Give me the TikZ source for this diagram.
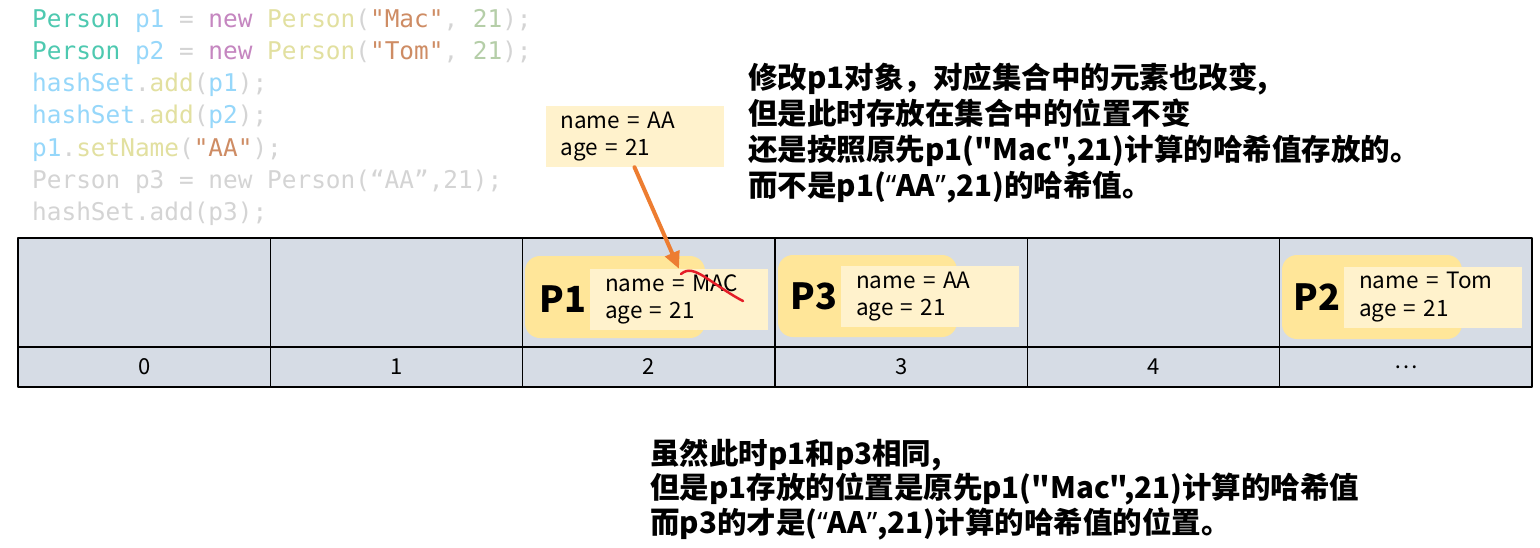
\documentclass[tikz,border=0pt]{standalone}
\usepackage{fontspec}
\newfontfamily\cjk{Noto Sans CJK SC}
\newfontfamily\latin{Noto Sans}
\setmonofont{DejaVu Sans Mono}
\usetikzlibrary{arrows.meta}
\usetikzlibrary{positioning}

\definecolor{cellbg}{RGB}{214,220,229}
\definecolor{objbg}{RGB}{255,230,153}
\definecolor{fieldbg}{RGB}{255,242,204}
\definecolor{arroworange}{RGB}{237,125,49}
\definecolor{strikered}{RGB}{228,30,40}
\definecolor{cdtypec}{RGB}{78,201,176}
\definecolor{cdvarc}{RGB}{150,215,250}
\definecolor{cdkwc}{RGB}{197,134,192}
\definecolor{cdfunc}{RGB}{226,224,160}
\definecolor{cdstrc}{RGB}{206,140,100}
\definecolor{cdnumc}{RGB}{181,206,168}
\definecolor{cdpunc}{RGB}{212,212,212}

\newcommand{\cdtype}[1]{\textcolor{cdtypec}{#1}}
\newcommand{\cdvar}[1]{\textcolor{cdvarc}{#1}}
\newcommand{\cdkw}[1]{\textcolor{cdkwc}{#1}}
\newcommand{\cdfun}[1]{\textcolor{cdfunc}{#1}}
\newcommand{\cdstr}[1]{\textcolor{cdstrc}{#1}}
\newcommand{\cdnum}[1]{\textcolor{cdnumc}{#1}}
\newcommand{\cdpun}[1]{\textcolor{cdpunc}{#1}}
\newcommand{\qopen}{{\latin “}}
\newcommand{\qclose}{{\latin ”}}

\tikzset{
  cell/.style={draw=black, line width=1.5pt, fill=cellbg, outer sep=0pt, inner sep=0pt,
    minimum width=252.33pt, minimum height=109pt},
  idx/.style={draw=black, line width=1.5pt, fill=cellbg, outer sep=0pt, inner sep=0pt,
    minimum width=252.33pt, minimum height=40pt, font=\cjk\fontsize{22}{22}\selectfont},
  obj/.style={fill=objbg, rounded corners=15pt, inner sep=0pt},
  field/.style={fill=fieldbg, inner xsep=15pt, inner ysep=0pt, text width=148pt,
    minimum height=61pt, align=left, font=\cjk\fontsize{22.5}{27.5}\selectfont},
  objlabel/.style={inner sep=0pt, font=\cjk\bfseries\fontsize{36}{36}\selectfont},
  pointer/.style={draw=arroworange, line width=4pt, -{Triangle[length=17pt,width=15pt]}},
  strike/.style={draw=strikered, line width=2.5pt, line cap=round},
  note/.style={inner sep=0pt, align=left, font=\cjk\bfseries\fontsize{29.5}{36.3}\selectfont},
  codeblock/.style={inner sep=0pt, align=left, font=\ttfamily\fontsize{24.4}{32.2}\selectfont}
}

\begin{document}
\begin{tikzpicture}[x=1pt,y=-1pt,line cap=round,line join=round]
  \path[use as bounding box, fill=white] (0,0) rectangle (1540,547);

  % code
  \node[codeblock, anchor=base west] (code) at (32,220.5) {%
    \cdtype{Person} \cdvar{p1} \cdpun{=} \cdkw{new} \cdfun{Person}\cdpun{(}\cdstr{"Mac"}\cdpun{,} \cdnum{21}\cdpun{);}\\
    \cdtype{Person} \cdvar{p2} \cdpun{=} \cdkw{new} \cdfun{Person}\cdpun{(}\cdstr{"Tom"}\cdpun{,} \cdnum{21}\cdpun{);}\\
    \cdvar{hashSet}\cdpun{.}\cdfun{add}\cdpun{(}\cdvar{p1}\cdpun{);}\\
    \cdvar{hashSet}\cdpun{.}\cdfun{add}\cdpun{(}\cdvar{p2}\cdpun{);}\\
    \cdvar{p1}\cdpun{.}\cdfun{setName}\cdpun{(}\cdstr{"AA"}\cdpun{);}\\
    \cdpun{Person p3 = new Person(“AA”,21);}\\
    \cdpun{hashSet.add(p3);}};

  % table
  \foreach \k/\lab in {0/0,1/1,2/2,3/3,4/4,5/…} {
    \node[cell] (cell\k) at ({144.17+252.33*\k},292.5) {};
    \node[idx, below=0pt of cell\k] (idx\k) {\lab};
  }

  % objects in the buckets
  \node[obj, minimum width=180pt, minimum height=82pt] (obj1) at (615,297) {};
  \node[field] (fld1) at (679,299.5) {name = MAC\\age = 21};
  \node[objlabel, left=3pt of fld1] (lab1) {P1};

  \node[obj, minimum width=179pt, minimum height=82pt] (obj3) at (867.5,296) {};
  \node[field] (fld3) at (930,296.5) {name = AA\\age = 21};
  \node[objlabel, left=3pt of fld3] (lab3) {P3};

  \node[obj, minimum width=180pt, minimum height=84pt] (obj2) at (1372,297) {};
  \node[field] (fld2) at (1433,297) {name = Tom\\age = 21};
  \node[objlabel, left=3pt of fld2] (lab2) {P2};

  % new value of p1
  \node[field] (aa) at (634.5,136.5) {name = AA\\age = 21};
  \draw[pointer] (aa.south) -- (fld1.north);
  \draw[strike] (681,274) .. controls (688,268) and (695,271) .. (705,277)
    .. controls (720,287) and (733,296) .. (743,301);

  % notes
  \node[note, anchor=base west] (note1) at (748,196.9) {修改p1对象，对应集合中的元素也改变,\\
    但是此时存放在集合中的位置不变\\
    还是按照原先p1("Mac",21)计算的哈希值存放的。\\
    而不是p1(\qopen AA\qclose,21)的哈希值。};
  \node[note, anchor=base west, font=\cjk\bfseries\fontsize{29.5}{34.5}\selectfont] (note2) at (650,533) {虽然此时p1和p3相同,\\
    但是p1存放的位置是原先p1("Mac",21)计算的哈希值\\
    而p3的才是(\qopen AA\qclose,21)计算的哈希值的位置。};
\end{tikzpicture}
\end{document}
